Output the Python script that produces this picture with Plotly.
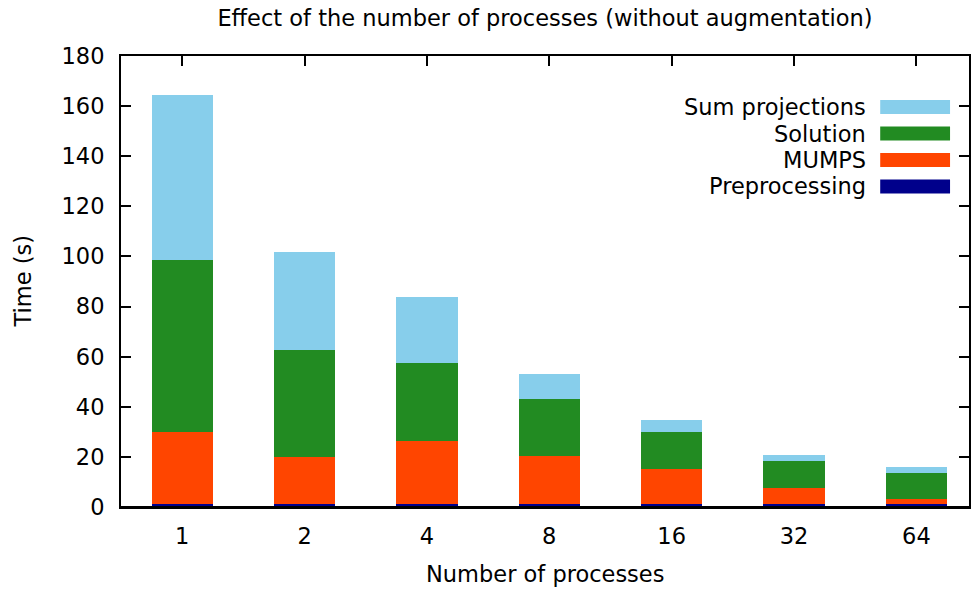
import plotly.graph_objects as go

categories = ["1", "2", "4", "8", "16", "32", "64"]
series_names = ["Preprocessing", "MUMPS", "Solution", "Sum projections"]
preprocessing = [1.0, 1.0, 1.0, 1.0, 1.0, 1.0, 1.0]
mumps = [28.9, 18.8, 25.4, 19.3, 14.0, 6.5, 2.0]
solution = [68.7, 43.0, 30.9, 23.0, 15.0, 11.0, 10.5]
sum_projections = [65.8, 39.1, 26.7, 9.6, 4.6, 2.4, 2.4]
colors = ["#00008B", "#FF4500", "#228B22", "#87CEEB"]
y_ticks = [0, 20, 40, 60, 80, 100, 120, 140, 160, 180]

FONT = "DejaVu Sans"
FS = 22.5
W, H = 972, 590
L, R, T, B = 121, 1, 56, 83
PW, PH = W - L - R, H - T - B

fig = go.Figure()
for name, vals, col in zip(series_names, [preprocessing, mumps, solution, sum_projections], colors):
    fig.add_trace(go.Bar(x=categories, y=vals, name=name, marker=dict(color=col, line=dict(width=0)),
                         showlegend=False))

# custom gnuplot-style legend (text right-aligned, swatch to the right)
def px2paper(px, py):
    return (px - L) / PW, (H - B - py) / PH

row_y = [107, 133.5, 160, 186.5]
legend_order = list(zip(series_names, colors))[::-1]
for (name, col), ry in zip(legend_order, row_y):
    tx, ty = px2paper(870, ry)
    fig.add_annotation(x=tx, y=ty, xref="paper", yref="paper", text=name, showarrow=False,
                       xanchor="right", yanchor="middle", font=dict(family=FONT, size=FS, color="black"))
    x0, y0 = px2paper(882, ry + 7)
    x1, y1 = px2paper(952, ry - 7)
    fig.add_shape(type="rect", xref="paper", yref="paper", x0=x0, y0=y0, x1=x1, y1=y1,
                  fillcolor=col, line=dict(width=0))

# bottom border drawn over the bars, as in the reference
fig.add_shape(type="line", xref="paper", yref="paper", x0=0, x1=1, y0=0, y1=0,
              line=dict(color="black", width=2), layer="above")

fig.add_annotation(x=0.5, y=0, xref="paper", yref="paper", text="Number of processes", showarrow=False,
                   xanchor="center", yanchor="middle", yshift=-(574 - (H - B)),
                   font=dict(family=FONT, size=FS, color="black"))
fig.add_annotation(x=0, y=0.5, xref="paper", yref="paper", text="Time (s)", showarrow=False,
                   textangle=-90, xanchor="center", yanchor="middle", xshift=22 - L,
                   font=dict(family=FONT, size=FS, color="black"))

fig.update_layout(
    width=W, height=H,
    margin=dict(l=L, r=R, t=T, b=B),
    barmode="stack", bargap=0.5,
    plot_bgcolor="white", paper_bgcolor="white",
    font=dict(family=FONT, size=FS, color="black"),
    title=dict(text="Effect of the number of processes (without augmentation)", x=0.5, xref="paper",
               xanchor="center", y=1 - 18 / H, yanchor="middle",
               font=dict(family=FONT, size=FS, color="black")),
    xaxis=dict(type="category", range=[-0.5, 6.43], showline=True, linecolor="black", linewidth=2,
               mirror="ticks", ticks="inside", ticklen=10, tickwidth=1.5, tickcolor="black",
               showgrid=False, zeroline=False, layer="below traces", ticklabelstandoff=8),
    yaxis=dict(range=[0, 180], tickvals=y_ticks, showline=True, linecolor="black", linewidth=2,
               mirror="ticks", ticks="inside", ticklen=10, tickwidth=1.5, tickcolor="black",
               showgrid=False, zeroline=False, ticklabelstandoff=10),
)

fig.write_html(
    "out.html",
    config={"displayModeBar": False},
    post_script="document.body.style.margin='0';document.documentElement.style.overflow='hidden';",
)
